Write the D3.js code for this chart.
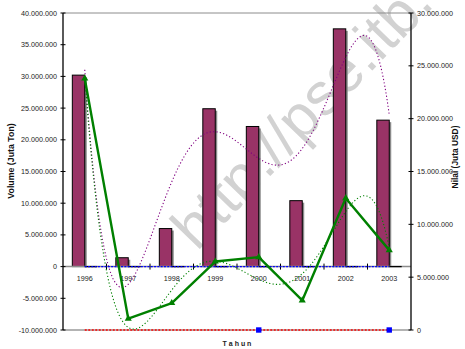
<!DOCTYPE html>
<html>
<head>
<meta charset="utf-8">
<script src="https://cdn.jsdelivr.net/npm/d3@7/dist/d3.min.js"></script>
<style>
  html, body { margin: 0; padding: 0; background: #fff; }
  svg { display: block; font-family: "Liberation Sans", Arial, sans-serif; }
</style>
</head>
<body>
<svg id="chart" width="465" height="349"></svg>
<script>
// Export volume (left axis, bars) and value (right axis, line), 1996-2003
const years = ["1996", "1997", "1998", "1999", "2000", "2001", "2002", "2003"];
const volume = [30200000, 1400000, 6000000, 24900000, 22100000, 10400000, 37500000, 23100000];
const nilai = [23800000, 1070000, 2550000, 6480000, 6900000, 2800000, 12470000, 7560000];
// companion series that stay at zero
const volumeZero = [0, 0, 0, 0, 0, 0, 0, 0];
const nilaiZero = [0, 0, 0, 0, 0, 0, 0, 0];
const nilaiZeroMarkers = ["2000", "2003"];
const leftTicks = [-10000000, -5000000, 0, 5000000, 10000000, 15000000, 20000000, 25000000, 30000000, 35000000, 40000000];
const rightTicks = [0, 5000000, 10000000, 15000000, 20000000, 25000000, 30000000];
const trendDegree = 5;

const svg = d3.select("#chart");
const plot = { left: 63, right: 411, top: 13, bottom: 330 };

const fmt = d3.formatLocale({ decimal: ",", thousands: ".", grouping: [3], currency: ["", ""], minus: "-" }).format(",.0f");

const x = d3.scaleBand().domain(years).range([plot.left, plot.right]).padding(0);
const bw = x.bandwidth();
const xc = d => x(d) + bw / 2;
const barW = bw / 3.5;
const inner = d3.scaleBand().domain(["a", "b"]).range([-barW, barW]).padding(0);

const yL = d3.scaleLinear().domain([-10000000, 40000000]).range([plot.bottom, plot.top]);
const yR = d3.scaleLinear().domain([0, 30000000]).range([plot.bottom, plot.top]);

// Watermark
svg.append("text")
  .attr("transform", "translate(197,252) rotate(-46)")
  .attr("font-size", 60)
  .attr("fill", "#d2d2d2")
  .text("http://pse.itb.ac.id");

// Plot frame (top and bottom)
svg.append("line").attr("x1", plot.left).attr("x2", plot.right).attr("y1", plot.top).attr("y2", plot.top)
  .attr("stroke", "#8c8c8c").attr("stroke-width", 1);
svg.append("line").attr("x1", plot.left).attr("x2", plot.right).attr("y1", plot.bottom).attr("y2", plot.bottom)
  .attr("stroke", "#9a9a9a").attr("stroke-width", 1.5);

// Bars with shadow
const barData = years.map((yr, i) => ({ yr, v: volume[i] }));
svg.append("g").selectAll("rect").data(barData).join("rect")
  .attr("x", d => xc(d.yr) + inner("a") + 2)
  .attr("y", d => yL(d.v) + 2)
  .attr("width", inner.bandwidth())
  .attr("height", d => yL(0) - yL(d.v) - 2)
  .attr("fill", "#8a8a8a");
svg.append("g").selectAll("rect").data(barData).join("rect")
  .attr("x", d => xc(d.yr) + inner("a"))
  .attr("y", d => yL(d.v))
  .attr("width", inner.bandwidth())
  .attr("height", d => yL(0) - yL(d.v))
  .attr("fill", "#993366")
  .attr("stroke", "#000")
  .attr("stroke-width", 1);

// Category axis at zero
svg.append("line").attr("x1", plot.left).attr("x2", plot.right).attr("y1", yL(0)).attr("y2", yL(0))
  .attr("stroke", "#8c8c8c").attr("stroke-width", 1.5);
// zero-height companion bars
svg.append("g").selectAll("line").data(years.map((yr, i) => ({ yr, v: volumeZero[i] }))).join("line")
  .attr("x1", d => xc(d.yr) + inner("b")).attr("x2", d => xc(d.yr) + inner("b") + inner.bandwidth())
  .attr("y1", d => yL(d.v)).attr("y2", d => yL(d.v))
  .attr("stroke", "#000").attr("stroke-width", 1.3);
// category ticks
svg.append("g").selectAll("line").data(years.slice(1)).join("line")
  .attr("x1", d => x(d)).attr("x2", d => x(d))
  .attr("y1", yL(0) - 3).attr("y2", yL(0) + 3)
  .attr("stroke", "#000").attr("stroke-width", 1);
// category labels
svg.append("g").selectAll("text").data(years).join("text")
  .attr("x", d => xc(d)).attr("y", yL(0) + 14)
  .attr("text-anchor", "middle").attr("font-size", 7.2).attr("fill", "#222")
  .text(d => d);

// Polynomial trend line (least squares)
function polyFit(ys, deg) {
  const n = ys.length, c = (n + 1) / 2, s = (n - 1) / 2;
  const ts = ys.map((_, i) => (i + 1 - c) / s);
  const m = deg + 1;
  const A = Array.from({ length: m }, () => new Array(m + 1).fill(0));
  ts.forEach((t, k) => {
    for (let i = 0; i < m; i++) {
      for (let j = 0; j < m; j++) A[i][j] += Math.pow(t, i + j);
      A[i][m] += Math.pow(t, i) * ys[k];
    }
  });
  for (let col = 0; col < m; col++) {
    let piv = col;
    for (let r = col + 1; r < m; r++) if (Math.abs(A[r][col]) > Math.abs(A[piv][col])) piv = r;
    [A[col], A[piv]] = [A[piv], A[col]];
    for (let r = 0; r < m; r++) {
      if (r === col) continue;
      const f = A[r][col] / A[col][col];
      for (let j = col; j <= m; j++) A[r][j] -= f * A[col][j];
    }
  }
  const coef = A.map((row, i) => row[m] / row[i]);
  return xi => { const t = (xi - c) / s; return coef.reduce((acc, a, i) => acc + a * Math.pow(t, i), 0); };
}
const xi = d3.scaleLinear().domain([1, years.length]).range([xc(years[0]), xc(years[years.length - 1])]);
const steps = d3.range(1, years.length + 0.0001, 0.05);

const fV = polyFit(volume, trendDegree);
svg.append("path")
  .attr("d", d3.line().x(d => xi(d)).y(d => yL(fV(d)))(steps))
  .attr("fill", "none").attr("stroke", "#800080").attr("stroke-width", 1.1).attr("stroke-dasharray", "1.2,2.2");

const fN = polyFit(nilai, trendDegree);
svg.append("path")
  .attr("d", d3.line().x(d => xi(d)).y(d => yR(fN(d)))(steps))
  .attr("fill", "none").attr("stroke", "#008000").attr("stroke-width", 1.1).attr("stroke-dasharray", "1.2,2.2");

// Trend lines of the zero series
svg.append("line")
  .attr("x1", xc(years[0])).attr("x2", xc(years[years.length - 1]))
  .attr("y1", yL(d3.mean(volumeZero))).attr("y2", yL(d3.mean(volumeZero)))
  .attr("stroke", "#0000ff").attr("stroke-width", 1.3).attr("stroke-dasharray", "2,1.3");
svg.append("line")
  .attr("x1", xc(years[0])).attr("x2", xc(years[years.length - 1]))
  .attr("y1", yR(d3.mean(nilaiZero))).attr("y2", yR(d3.mean(nilaiZero)))
  .attr("stroke", "#ff0000").attr("stroke-width", 1.3).attr("stroke-dasharray", "2,1.5");
svg.append("g").selectAll("rect").data(nilaiZeroMarkers).join("rect")
  .attr("x", d => xc(d) - 2.7).attr("y", d => yR(nilaiZero[years.indexOf(d)]) - 2.7)
  .attr("width", 5.4).attr("height", 5.4).attr("fill", "#0000ff");

// Value line with triangle markers
const lineData = years.map((yr, i) => ({ yr, v: nilai[i] }));
svg.append("path")
  .attr("d", d3.line().x(d => xc(d.yr)).y(d => yR(d.v))(lineData))
  .attr("fill", "none").attr("stroke", "#008000").attr("stroke-width", 2.4).attr("stroke-linejoin", "round");
svg.append("g").selectAll("path").data(lineData).join("path")
  .attr("d", d3.symbol(d3.symbolTriangle, 22))
  .attr("transform", d => `translate(${xc(d.yr)},${yR(d.v)})`)
  .attr("fill", "#008000");

// Left axis
const gL = svg.append("g").attr("transform", `translate(${plot.left},0)`);
gL.append("line").attr("y1", plot.top).attr("y2", plot.bottom).attr("stroke", "#000").attr("stroke-width", 1.3);
gL.selectAll(".t").data(leftTicks).join("line")
  .attr("x1", -2.5).attr("x2", 2.5).attr("y1", d => yL(d)).attr("y2", d => yL(d))
  .attr("stroke", "#000").attr("stroke-width", 1);
gL.selectAll("text").data(leftTicks).join("text")
  .attr("x", -6).attr("y", d => yL(d)).attr("dy", "0.35em")
  .attr("text-anchor", "end").attr("font-size", 7.2).attr("fill", "#222")
  .text(d => fmt(d));

// Right axis
const gR = svg.append("g").attr("transform", `translate(${plot.right},0)`);
gR.append("line").attr("y1", plot.top).attr("y2", plot.bottom).attr("stroke", "#000").attr("stroke-width", 1.3);
gR.selectAll(".t").data(rightTicks).join("line")
  .attr("x1", -2.5).attr("x2", 2.5).attr("y1", d => yR(d)).attr("y2", d => yR(d))
  .attr("stroke", "#000").attr("stroke-width", 1);
gR.selectAll("text").data(rightTicks).join("text")
  .attr("x", 6).attr("y", d => yR(d)).attr("dy", "0.35em")
  .attr("text-anchor", "start").attr("font-size", 7.2).attr("fill", "#222")
  .text(d => fmt(d));

// Axis titles
svg.append("text")
  .attr("transform", "translate(14,161) rotate(-90)")
  .attr("text-anchor", "middle").attr("font-size", 8.8).attr("font-weight", "bold").attr("fill", "#111")
  .text("Volume (Juta Ton)");
svg.append("text")
  .attr("transform", "translate(458,157) rotate(-90)")
  .attr("text-anchor", "middle").attr("font-size", 8.4).attr("font-weight", "bold").attr("fill", "#111")
  .text("Nilai (Juta USD)");
svg.append("text")
  .attr("x", 237).attr("y", 346)
  .attr("text-anchor", "middle").attr("font-size", 7).attr("font-weight", "bold").attr("fill", "#222")
  .text("T a h u n");
</script>
</body>
</html>
